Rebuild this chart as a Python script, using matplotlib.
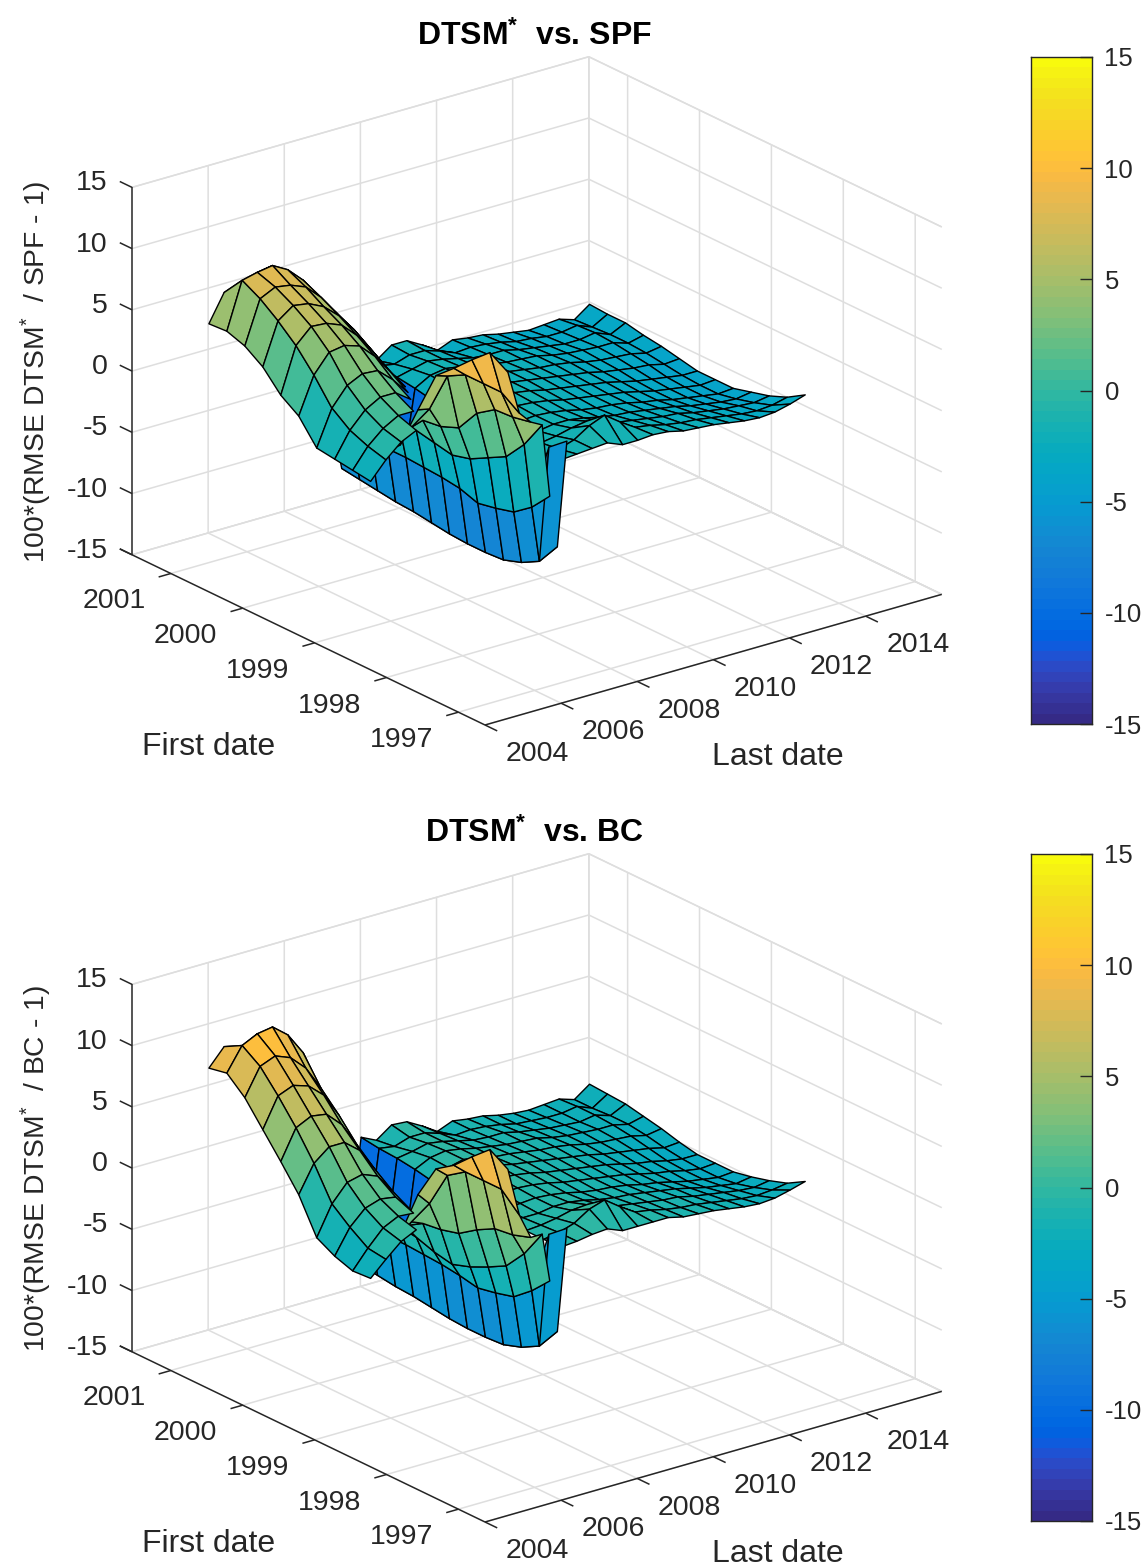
#!/usr/bin/env python3
# -*- coding: UTF-8 -*-
import numpy as np
import matplotlib
matplotlib.use('agg')
from matplotlib import pyplot as plt
from matplotlib.colors import ListedColormap, Normalize
from mpl_toolkits.mplot3d import proj3d
from mpl_toolkits.mplot3d.art3d import Poly3DCollection

nan = float('nan')

# parula, 64 steps
parula = [
    [0.2081, 0.1663, 0.5292], [0.2116, 0.1898, 0.5777], [0.2123, 0.2138, 0.6270], [0.2081, 0.2386, 0.6771],
    [0.1959, 0.2645, 0.7279], [0.1707, 0.2919, 0.7792], [0.1253, 0.3242, 0.8303], [0.0591, 0.3598, 0.8683],
    [0.0117, 0.3875, 0.8820], [0.0060, 0.4086, 0.8828], [0.0165, 0.4266, 0.8786], [0.0329, 0.4430, 0.8720],
    [0.0498, 0.4586, 0.8641], [0.0629, 0.4737, 0.8554], [0.0723, 0.4887, 0.8467], [0.0779, 0.5040, 0.8384],
    [0.0793, 0.5200, 0.8312], [0.0749, 0.5375, 0.8263], [0.0641, 0.5570, 0.8240], [0.0488, 0.5772, 0.8228],
    [0.0343, 0.5966, 0.8199], [0.0265, 0.6137, 0.8135], [0.0239, 0.6287, 0.8038], [0.0231, 0.6418, 0.7913],
    [0.0228, 0.6535, 0.7768], [0.0267, 0.6642, 0.7607], [0.0384, 0.6743, 0.7436], [0.0590, 0.6838, 0.7254],
    [0.0843, 0.6928, 0.7062], [0.1133, 0.7015, 0.6859], [0.1453, 0.7098, 0.6646], [0.1801, 0.7177, 0.6424],
    [0.2178, 0.7250, 0.6193], [0.2586, 0.7317, 0.5954], [0.3022, 0.7376, 0.5712], [0.3482, 0.7424, 0.5473],
    [0.3953, 0.7459, 0.5244], [0.4420, 0.7481, 0.5033], [0.4871, 0.7491, 0.4840], [0.5300, 0.7491, 0.4661],
    [0.5709, 0.7485, 0.4494], [0.6099, 0.7473, 0.4337], [0.6473, 0.7456, 0.4188], [0.6834, 0.7435, 0.4044],
    [0.7184, 0.7411, 0.3905], [0.7525, 0.7384, 0.3768], [0.7858, 0.7356, 0.3633], [0.8185, 0.7327, 0.3498],
    [0.8507, 0.7299, 0.3360], [0.8824, 0.7274, 0.3217], [0.9139, 0.7258, 0.3063], [0.9450, 0.7261, 0.2886],
    [0.9739, 0.7314, 0.2666], [0.9938, 0.7455, 0.2403], [0.9990, 0.7653, 0.2164], [0.9955, 0.7861, 0.1967],
    [0.9880, 0.8066, 0.1794], [0.9789, 0.8271, 0.1633], [0.9697, 0.8481, 0.1475], [0.9626, 0.8705, 0.1309],
    [0.9589, 0.8949, 0.1132], [0.9598, 0.9218, 0.0948], [0.9661, 0.9514, 0.0755], [0.9763, 0.9831, 0.0538],
]

# 轴
last_ticks = [2004, 2006, 2008, 2010, 2012, 2014]
first_ticks = [1997, 1998, 1999, 2000, 2001]
z_ticks = [-15, -10, -5, 0, 5, 10, 15]

# sheet behind: last date across, first date down
main_x = [2006.6, 2007.0, 2007.4, 2007.8, 2008.2, 2008.6, 2009.0, 2009.4, 2009.8,
          2010.2, 2010.6, 2011.0, 2011.4, 2011.8, 2012.2, 2012.6, 2013.0]
main_y = [1998.0, 1998.25, 1998.5, 1998.75, 1999.0, 1999.25, 1999.5, 1999.75,
          2000.0, 2000.25, 2000.5, 2000.75, 2001.0]
# front wall and ridge
wall_x = [2003.3, 2003.6, 2003.9, 2004.2, 2004.4, 2004.6, 2004.85]
wall_y = [1997.0, 1997.25, 1997.5, 1997.75, 1998.0, 1998.25, 1998.5, 1998.75,
          1999.0, 1999.25, 1999.5, 1999.75, 2000.0]
# hump on the left
hump_x = [2003.0, 2003.4, 2003.8, 2004.2, 2004.6, 2005.0, 2005.4, 2005.8, 2006.2, 2006.6]
hump_y = [1998.75, 1999.0, 1999.25, 1999.5, 1999.75, 2000.0, 2000.25, 2000.5, 2000.75, 2001.0]

main_spf = [
    [-1.3, -1.2, -1.1, -1.0, -1.5, -1.5, -1.4, -1.5, -1.8, -1.9, -2.0, -2.2, -2.4, -2.5, -2.4, -2.1, -1.7],
    [-1.6, -1.5, -1.1, -0.3, 0.2, -0.7, -1.5, -1.7, -2.0, -2.2, -2.3, -2.5, -2.7, -2.9, -3.0, -2.9, -2.6],
    [-1.7, -1.7, -1.5, -1.2, -1.0, -1.4, -1.8, -2.0, -2.2, -2.4, -2.5, -2.8, -3.0, -3.2, -3.3, -3.4, -3.2],
    [-1.7, -1.8, -1.8, -1.6, -1.6, -1.8, -2.1, -2.3, -2.4, -2.6, -2.8, -3.0, -3.3, -3.5, -3.7, -3.8, -3.6],
    [-1.6, -1.8, -1.7, -1.6, -1.7, -1.9, -2.2, -2.4, -2.5, -2.7, -3.0, -3.2, -3.5, -3.7, -3.9, -4.1, -4.0],
    [-1.5, -1.7, -1.6, -1.5, -1.6, -1.8, -2.1, -2.3, -2.5, -2.7, -2.9, -3.2, -3.5, -3.7, -3.9, -4.1, -4.0],
    [-10, -1.8, -1.6, -1.4, -1.5, -1.7, -2.0, -2.2, -2.4, -2.6, -2.8, -3.1, -3.4, -3.6, -3.8, -4.0, -4.0],
    [-10, -2.0, -1.6, -1.3, -1.4, -1.7, -1.9, -2.1, -2.3, -2.5, -2.7, -3.0, -3.2, -3.4, -3.5, -3.8, -3.7],
    [-10, -2.5, -1.6, -1.3, -1.5, -1.8, -1.9, -2.1, -2.3, -2.4, -2.6, -2.9, -3.1, -3.2, -3.3, -3.6, -3.4],
    [-10, -2.2, -1.5, -1.3, -1.5, -1.8, -2.0, -2.2, -2.3, -2.4, -2.7, -2.9, -3.0, -3.1, -3.1, -3.5, -3.2],
    [-10, -2.0, -1.7, -1.4, -1.6, -1.9, -2.2, -2.3, -2.3, -2.6, -2.8, -3.0, -3.2, -3.2, -3.0, -3.5, -2.9],
    [-10, -1.8, -2.0, -1.6, -1.6, -2.0, -2.5, -2.4, -2.5, -2.7, -3.0, -3.1, -3.3, -3.3, -3.1, -3.6, -2.9],
    [-10, -1.6, -2.4, -1.5, -1.5, -2.2, -3.0, -2.5, -2.7, -2.8, -3.1, -3.3, -3.5, -3.4, -3.3, -3.7, -2.8],
]
wall_spf = [
    [11.6, 8.0, 7.0, 6.5, 0.5, -3.8, 4.6],
    [12.5, 9.0, 6.7, 4.2, -1.1, -5.7, 3.4],
    [11.2, 9.0, 6.6, 2.5, -2.2, -6.5, -2.0],
    [9.8, 9.0, 5.6, 1.7, -2.6, -7.0, -2.0],
    [8.5, 8.2, 3.7, 0.9, -2.9, -7.1, -2.0],
    [5.0, 4.8, 3.1, 0.5, -2.4, -7.1, -2.0],
    [1.4, 2.6, 2.9, 0.8, -2.2, -7.0, -2.0],
    [0.0, 0.3, 1.7, 1.1, -2.1, -6.8, -2.0],
    [0.5, 0.5, 1.0, 1.2, -2.0, -6.6, -2.0],
    [1.0, 0.8, 1.0, 1.0, -2.0, -6.5, -2.0],
    [2.0, 1.5, 1.0, 1.0, -2.0, -6.3, -2.0],
    [3.0, 2.5, 2.0, 1.0, -2.0, -6.1, -2.0],
    [4.0, 3.5, 2.5, 1.0, -2.5, -5.9, -2.0],
]
hump_spf = [
    [-2.0, -0.6, 0.5, 1.1, nan, nan, nan, nan, nan, nan],
    [-1.8, -0.2, 0.9, 1.6, 1.6, nan, nan, nan, nan, nan],
    [-1.6, 0.4, 1.7, 2.4, 2.4, 1.5, nan, nan, nan, nan],
    [-1.4, 1.5, 3.0, 3.6, 3.5, 2.4, 1.0, nan, nan, nan],
    [0.5, 3.5, 5.0, 5.2, 4.8, 3.6, 2.0, 0.4, nan, nan],
    [1.5, 5.2, 6.4, 6.3, 5.8, 4.6, 3.0, 1.2, -0.6, nan],
    [3.1, 6.5, 7.4, 7.2, 6.6, 5.5, 4.0, 2.2, 0.3, -1.6],
    [4.1, 7.6, 8.2, 8.0, 7.5, 6.3, 4.7, 3.0, 1.2, -1.0],
    [4.6, 8.4, 8.7, 8.9, 8.2, 7.0, 5.3, 3.5, 1.8, -0.5],
    [4.5, 6.7, 6.5, 7.5, 7.5, 6.3, 4.5, 3.0, 1.2, -1.0],
]

main_bc = [
    [-0.5, -0.4, -0.2, -0.1, -0.6, -0.6, -0.6, -0.6, -0.9, -1.0, -1.1, -1.3, -1.5, -1.6, -1.5, -1.2, -0.85],
    [-0.6, -0.4, 0.0, 0.8, 1.2, 0.3, -0.5, -0.7, -1.0, -1.2, -1.3, -1.5, -1.7, -1.9, -2.0, -1.9, -1.7],
    [-0.6, -0.5, -0.3, 0.0, 0.1, -0.3, -0.7, -0.9, -1.1, -1.3, -1.4, -1.7, -1.9, -2.1, -2.3, -2.4, -2.2],
    [-0.5, -0.6, -0.6, -0.4, -0.4, -0.6, -0.9, -1.1, -1.2, -1.4, -1.6, -1.8, -2.1, -2.4, -2.6, -2.8, -2.6],
    [-0.4, -0.6, -0.5, -0.4, -0.5, -0.7, -1.0, -1.2, -1.3, -1.5, -1.8, -2.0, -2.3, -2.6, -2.8, -3.0, -2.9],
    [-0.3, -0.5, -0.4, -0.3, -0.4, -0.6, -0.9, -1.1, -1.3, -1.5, -1.7, -2.0, -2.3, -2.5, -2.8, -3.0, -2.9],
    [-10, -0.6, -0.4, -0.2, -0.3, -0.5, -0.8, -1.0, -1.2, -1.4, -1.6, -1.9, -2.2, -2.4, -2.7, -2.9, -2.9],
    [-10, -0.8, -0.4, -0.1, -0.2, -0.5, -0.7, -0.9, -1.1, -1.3, -1.5, -1.8, -2.0, -2.2, -2.4, -2.7, -2.6],
    [-10, -1.2, -0.4, -0.1, -0.3, -0.6, -0.7, -0.9, -1.1, -1.2, -1.4, -1.7, -1.9, -2.0, -2.1, -2.4, -2.2],
    [-10, -0.9, -0.3, -0.1, -0.3, -0.6, -0.8, -1.0, -1.1, -1.2, -1.5, -1.7, -1.8, -1.9, -1.9, -2.2, -1.9],
    [-10, -0.7, -0.5, -0.2, -0.4, -0.7, -1.0, -1.1, -1.1, -1.4, -1.6, -1.8, -1.9, -2.0, -1.8, -2.2, -1.6],
    [-10, -0.6, -0.8, -0.4, -0.4, -0.8, -1.3, -1.2, -1.3, -1.5, -1.8, -1.9, -2.0, -2.0, -1.8, -2.3, -1.5],
    [-10, -0.4, -1.0, -0.1, -0.2, -0.9, -1.7, -1.2, -1.4, -1.5, -1.8, -2.0, -2.1, -2.0, -1.9, -2.3, -1.4],
]
wall_bc = [
    [11.6, 7.6, 5.5, 5.5, 1.5, -2.8, 5.4],
    [12.5, 9.0, 5.0, 3.2, 0.0, -4.7, 4.2],
    [11.2, 9.0, 4.8, 1.5, -1.2, -5.5, -1.0],
    [9.8, 9.0, 4.0, 0.7, -1.6, -6.0, -1.0],
    [8.8, 8.0, 3.0, 0.0, -1.9, -6.1, -1.0],
    [6.0, 5.0, 2.6, -0.5, -1.6, -6.1, -1.0],
    [2.0, 2.8, 2.4, -0.2, -1.4, -6.0, -1.0],
    [0.0, 0.5, 1.5, 0.3, -1.3, -5.8, -1.0],
    [0.5, 0.5, 1.0, 0.5, -1.2, -5.6, -1.0],
    [1.0, 0.8, 1.0, 0.5, -1.2, -5.5, -1.0],
    [2.0, 1.5, 1.0, 0.5, -1.2, -5.3, -1.0],
    [3.0, 2.5, 2.0, 0.5, -1.2, -5.1, -1.0],
    [4.0, 3.5, 2.5, 0.5, -1.5, -4.9, -1.0],
]
hump_bc = [
    [-2.0, -0.8, 0.3, 0.9, nan, nan, nan, nan, nan, nan],
    [-2.1, -0.6, 0.7, 1.3, 1.2, nan, nan, nan, nan, nan],
    [-1.6, 0.4, 1.6, 2.0, 1.8, 0.4, nan, nan, nan, nan],
    [-0.8, 1.6, 3.0, 3.3, 2.8, 1.2, -0.6, nan, nan, nan],
    [2.0, 4.2, 5.2, 5.2, 4.2, 2.3, 0.2, -2.0, nan, nan],
    [4.0, 6.4, 7.0, 6.8, 5.6, 3.6, 1.0, -1.6, -3.8, nan],
    [5.9, 8.3, 8.8, 8.4, 7.3, 5.3, 2.6, -0.6, -3.2, -5.0],
    [7.8, 10.0, 10.5, 10.0, 8.8, 6.8, 4.0, 0.8, -2.2, -4.5],
    [9.1, 11.0, 11.6, 11.8, 10.8, 9.0, 6.0, 3.0, -0.5, -3.5],
    [8.8, 10.2, 9.6, 10.0, 9.8, 8.2, 5.5, 2.5, -1.0, -3.5],
]

W, H = 1145, 1567
X_LIM = (2002.0, 2014.0)
Y_LIM = (1996.63, 2001.54)
Z_LIM = (-15.0, 15.0)
TEXT_COLOR = '#262626'
GRID_COLOR = '#dedede'
FONT = 'Liberation Sans'

plt.rcParams['font.family'] = [FONT, 'DejaVu Sans']
plt.rcParams['mathtext.fontset'] = 'custom'
plt.rcParams['mathtext.rm'] = FONT
plt.rcParams['mathtext.it'] = FONT
plt.rcParams['mathtext.bf'] = FONT + ':bold'
plt.rcParams['mathtext.default'] = 'regular'
plt.rcParams['axes.unicode_minus'] = False

cmap = ListedColormap(parula)
norm = Normalize(Z_LIM[0], Z_LIM[1])


def add_sheet(ax, x, y, z, order):
    """一块曲面: 每个小格用四个角中最低的值着色"""
    _z = np.array(z, dtype=float)
    _verts, _colors = [], []
    for i in range(len(y) - 1):
        for j in range(len(x) - 1):
            _c = _z[i:i + 2, j:j + 2]
            if np.isnan(_c).any():
                continue
            _verts.append([(x[j], y[i], _c[0, 0]), (x[j + 1], y[i], _c[0, 1]),
                           (x[j + 1], y[i + 1], _c[1, 1]), (x[j], y[i + 1], _c[1, 0])])
            _colors.append(cmap(norm(_c.min())))
    _poly = Poly3DCollection(_verts, facecolors=_colors, edgecolors='black', linewidths=1.0)
    _poly.set_zorder(order)
    ax.add_collection3d(_poly)


def to_px(ax, x, y, z):
    """三维数据坐标 -> 图上像素(原点左上)"""
    _x, _y, _ = proj3d.proj_transform(x, y, z, ax.get_proj())
    _p = ax.transData.transform((_x, _y))
    return _p[0], H - _p[1]


def fit_box(ax, front_px, left_px):
    """调整子图位置, 让坐标盒子的前角和左角落到指定像素"""
    _side = 900.0
    _cx, _cy = front_px[0], H - front_px[1]
    for _ in range(4):
        ax.set_position([(_cx - _side / 2) / W, (_cy - _side / 2) / H, _side / W, _side / H])
        ax.apply_aspect()
        _f = to_px(ax, X_LIM[0], Y_LIM[0], Z_LIM[0])
        _l = to_px(ax, X_LIM[0], Y_LIM[1], Z_LIM[0])
        _side *= (front_px[0] - left_px[0]) / (_f[0] - _l[0])
        ax.set_position([(_cx - _side / 2) / W, (_cy - _side / 2) / H, _side / W, _side / H])
        ax.apply_aspect()
        _f = to_px(ax, X_LIM[0], Y_LIM[0], Z_LIM[0])
        _cx += front_px[0] - _f[0]
        _cy -= front_px[1] - _f[1]
    ax.set_position([(_cx - _side / 2) / W, (_cy - _side / 2) / H, _side / W, _side / H])
    ax.apply_aspect()


def draw_panel(fig, dy, title, zlabel, main_z, wall_z, hump_z):
    ax = fig.add_axes([0, 0, 0.5, 0.5], projection='3d', computed_zorder=False)
    ax.patch.set_visible(False)
    ax.set_proj_type('ortho')
    ax.set_box_aspect((577, 579, 396))
    ax.view_init(elev=21.8, azim=-127.6)

    add_sheet(ax, main_x, main_y, main_z, 3)
    add_sheet(ax, wall_x, wall_y, wall_z, 4)
    add_sheet(ax, hump_x, hump_y, hump_z, 5)

    ax.set_xlim(*X_LIM, view_margin=0)
    ax.set_ylim(*Y_LIM, view_margin=0)
    ax.set_zlim(*Z_LIM, view_margin=0)
    ax.set_xticks(last_ticks)
    ax.set_yticks(first_ticks)
    ax.set_zticks(z_ticks)
    ax.set_xticklabels([])
    ax.set_yticklabels([])
    ax.set_zticklabels([])

    for _axis in (ax.xaxis, ax.yaxis, ax.zaxis):
        _axis.set_pane_color((1, 1, 1, 1))
        _axis.pane.set_edgecolor(GRID_COLOR)
        _axis.line.set_color((1, 1, 1, 0))
        _axis._axinfo['grid']['color'] = GRID_COLOR
        _axis._axinfo['grid']['linewidth'] = 1.1
        _axis._axinfo['tick']['inward_factor'] = 0
        _axis._axinfo['tick']['outward_factor'] = 0
        _axis.set_tick_params(length=0, colors=(1, 1, 1, 0))

    fit_box(ax, (485, 725 + dy), (132, 550 + dy))

    # 轴线和刻度, 按 MATLAB 的样子自己画
    _style = dict(color=TEXT_COLOR, lw=1.1, zorder=2, solid_capstyle='butt')
    _dx = 0.32
    _dy = 0.17
    ax.plot([X_LIM[0], X_LIM[1]], [Y_LIM[0]] * 2, [Z_LIM[0]] * 2, **_style)
    ax.plot([X_LIM[0]] * 2, [Y_LIM[0] - _dy, Y_LIM[1] + _dy], [Z_LIM[0]] * 2, **_style)
    ax.plot([X_LIM[0]] * 2, [Y_LIM[1]] * 2, [Z_LIM[0], Z_LIM[1]], **_style)
    for _t in last_ticks:
        if _t < X_LIM[1]:
            ax.plot([_t, _t], [Y_LIM[0] - _dy, Y_LIM[0]], [Z_LIM[0]] * 2, **_style)
        _p = to_px(ax, _t, Y_LIM[0], Z_LIM[0])
        fig.text((_p[0] - 24) / W, 1 - (_p[1] + 51) / H, str(_t), ha='center', va='center',
                 fontsize=20.5, color=TEXT_COLOR)
    for _t in first_ticks:
        ax.plot([X_LIM[0] - _dx, X_LIM[0]], [_t, _t], [Z_LIM[0]] * 2, **_style)
        _p = to_px(ax, X_LIM[0], _t, Z_LIM[0])
        fig.text((_p[0] - 57) / W, 1 - (_p[1] + 28) / H, str(_t), ha='center', va='center',
                 fontsize=20.5, color=TEXT_COLOR)
    for _t in z_ticks:
        ax.plot([X_LIM[0]] * 2, [Y_LIM[1], Y_LIM[1] + _dy], [_t, _t], **_style)
        _p = to_px(ax, X_LIM[0], Y_LIM[1], _t)
        fig.text(108 / W, 1 - (_p[1] - 4) / H, str(_t), ha='right', va='center',
                 fontsize=20.5, color=TEXT_COLOR)
    ax.set_xlim(*X_LIM, view_margin=0)
    ax.set_ylim(*Y_LIM, view_margin=0)
    ax.set_zlim(*Z_LIM, view_margin=0)

    fig.text(534 / W, 1 - (36 + dy) / H, title, ha='center', va='center', fontsize=23,
             fontweight='bold', color='black')
    fig.text(36 / W, 1 - (372 + dy) / H, zlabel, ha='center', va='center', rotation=90,
             fontsize=20.3, color=TEXT_COLOR)
    fig.text(209 / W, 1 - (747 + dy) / H, 'First date', ha='center', va='center', fontsize=23,
             color=TEXT_COLOR)
    fig.text(778 / W, 1 - (757 + dy) / H, 'Last date', ha='center', va='center', fontsize=23,
             color=TEXT_COLOR)

    # colorbar
    _cax = fig.add_axes([1031 / W, 1 - (724 + dy) / H, 61 / W, 667 / H])
    _cax.imshow(np.linspace(1, 0, len(parula)).reshape(-1, 1), cmap=cmap, vmin=0, vmax=1,
                aspect='auto', extent=(0, 1, Z_LIM[0], Z_LIM[1]), interpolation='nearest')
    _cax.set_xticks([])
    _cax.yaxis.tick_right()
    _cax.set_yticks(z_ticks)
    _cax.tick_params(axis='y', direction='in', length=9, width=1, color=TEXT_COLOR, labelsize=18.5,
                     labelcolor=TEXT_COLOR, pad=9)
    for _s in _cax.spines.values():
        _s.set_linewidth(1.0)
        _s.set_color(TEXT_COLOR)


fig = plt.figure(figsize=(W / 100, H / 100), dpi=100, facecolor='white')
draw_panel(fig, 0, r'DTSM$^{*}$  vs. SPF', r'100*(RMSE DTSM$^{*}$  / SPF - 1)', main_spf, wall_spf, hump_spf)
draw_panel(fig, 797, r'DTSM$^{*}$  vs. BC', r'100*(RMSE DTSM$^{*}$  / BC - 1)', main_bc, wall_bc, hump_bc)
fig.savefig('out.png', dpi=100, facecolor='white')
